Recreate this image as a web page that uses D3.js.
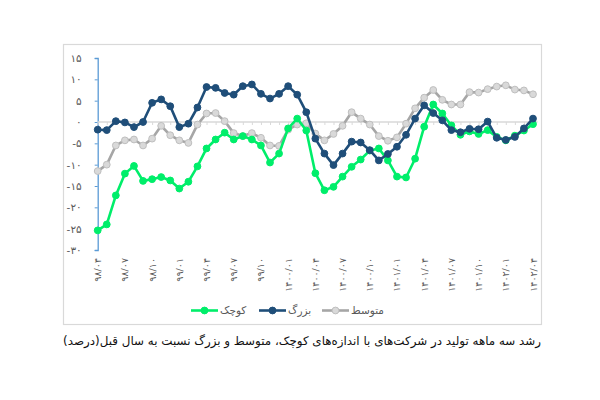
<!DOCTYPE html>
<html><head><meta charset="utf-8">
<script src="https://cdn.jsdelivr.net/npm/d3@7"></script>
<style>
html,body{margin:0;padding:0;background:#fff;}
svg{display:block;}
</style></head>
<body>
<svg id="chart" width="600" height="400"></svg>
<script>
const categories = [
 "98/04","98/05","98/06","98/07","98/08","98/09","98/10","98/11","98/12",
 "99/01","99/02","99/03","99/04","99/05","99/06","99/07","99/08","99/09","99/10","99/11","99/12",
 "1400/01","1400/02","1400/03","1400/04","1400/05","1400/06","1400/07","1400/08","1400/09","1400/10","1400/11","1400/12",
 "1401/01","1401/02","1401/03","1401/04","1401/05","1401/06","1401/07","1401/08","1401/09","1401/10","1401/11","1401/12",
 "1402/01","1402/02","1402/03","1402/04"];
const tickLabels = ["98/04","98/07","98/10","99/01","99/04","99/07","99/10","1400/01","1400/04","1400/07","1400/10","1401/01","1401/04","1401/07","1401/10","1402/01","1402/04"];
const yTicks = [15,10,5,0,-5,-10,-15,-20,-25,-30];

const seriesNames = ["متوسط","بزرگ","کوچک"];
const medium = [-11.5,-10.0,-5.5,-4.3,-4.1,-5.5,-3.9,-0.9,-3.1,-4.3,-4.9,-0.6,2.0,2.1,0.2,-2.6,-3.3,-2.6,-3.7,-5.5,-5.6,-1.8,-0.6,-0.3,-2.7,-4.3,-2.8,-0.9,2.3,0.8,-0.6,-3.3,-4.4,-3.6,-0.4,3.2,5.7,7.5,5.2,4.1,4.1,7.0,6.9,7.7,8.3,8.6,7.6,7.4,6.5];
const big = [-1.8,-1.9,0.2,-0.1,-1.2,0,4.5,5.3,3.7,-1.2,-0.4,3.4,8.2,8.0,6.8,6.4,8.4,8.8,6.6,5.5,6.6,8.4,6.4,2.3,-3.9,-7.4,-10.1,-7.4,-4.6,-4.8,-6.6,-9.0,-7.5,-5.8,-3.0,0.8,3.9,2.1,0.4,-1.9,-2.4,-1.6,-1.7,0.1,-3.7,-4.2,-3.5,-1.5,0.8];
const small = [-25.4,-24.0,-17.2,-12.1,-10.3,-13.8,-13.4,-12.9,-13.7,-15.6,-14.0,-10.4,-6.2,-4.1,-2.5,-4.1,-3.3,-4.1,-5.5,-9.5,-7.4,-1.5,0.8,-2.0,-12.0,-16.0,-15.2,-12.8,-10.5,-8.8,-6.7,-6.2,-9.0,-12.8,-13.0,-8.6,-1.1,4.1,2.0,-0.8,-3.0,-2.2,-2.8,-1.9,-3.5,-4.3,-3.2,-2.0,-0.5];
const title = "رشد سه ماهه تولید در شرکت‌های با اندازه‌های کوچک، متوسط و بزرگ نسبت به سال قبل(درصد)";

const fa = s => String(s).replace(/[0-9]/g, d => "۰۱۲۳۴۵۶۷۸۹"[+d]);

const series = [
  {name: seriesNames[0], values: medium, line: "#a6a6a6", fill: "#d9d9d9", stroke: "#bfbfbf"},
  {name: seriesNames[2], values: small, line: "#00ee6a", fill: "#00ee6a", stroke: "#00ee6a"},
  {name: seriesNames[1], values: big, line: "#1f4e79", fill: "#1f4e79", stroke: "#1f4e79"}
];

const svg = d3.select("#chart");
const font = "DejaVu Sans, sans-serif";

// frame
svg.append("rect").attr("x",63.5).attr("y",44.5).attr("width",478).attr("height",280)
  .attr("fill","none").attr("stroke","#d9d9d9").attr("stroke-width",1.2);

const x = d3.scalePoint().domain(categories).range([97.7, 533]);
const y = d3.scaleLinear().domain([-30, 15]).range([250, 58]);

// y axis
const yAxis = d3.axisLeft(y).tickValues(yTicks).tickSize(3).tickFormat(d => fa(d < 0 ? "-" + (-d) : d));
const gy = svg.append("g").attr("transform","translate(97.7,0)").call(yAxis);
gy.select(".domain").attr("stroke","#5b9bd5").attr("stroke-width",1.3);
gy.selectAll(".tick line").attr("stroke","#5b9bd5");
gy.selectAll(".tick text").attr("fill","#595959").attr("font-family",font).attr("font-size",10.5)
  .attr("x",-16).attr("direction","ltr");

// x axis at zero
const xAxis = d3.axisBottom(x).tickSize(3).tickFormat("");
const gx = svg.append("g").attr("transform",`translate(0,${y(0)})`).call(xAxis);
gx.select(".domain").attr("stroke","#d9d9d9").attr("stroke-width",1.3).attr("d",`M${97.7},0H${537.5}`);
gx.selectAll(".tick line").attr("stroke","#d9d9d9");

// x tick labels (rotated)
svg.append("g").selectAll("text").data(tickLabels).join("text")
  .attr("transform", d => `translate(${x(d)+3.5},258) rotate(-90)`)
  .attr("text-anchor","end").attr("direction","ltr")
  .attr("font-family",font).attr("font-size",9.5).attr("fill","#595959")
  .text(d => fa(d));

// lines
const line = d3.line().x((d,i) => x(categories[i])).y(d => y(d));
series.forEach(s => {
  const g = svg.append("g");
  g.append("path").datum(s.values).attr("d", line).attr("fill","none")
    .attr("stroke", s.line).attr("stroke-width", 2.6).attr("stroke-linejoin","round");
  g.selectAll("circle").data(s.values).join("circle")
    .attr("cx",(d,i) => x(categories[i])).attr("cy", d => y(d)).attr("r",3.4)
    .attr("fill", s.fill).attr("stroke", s.stroke).attr("stroke-width",1);
});

// legend
const legendItems = [
  {s: series[1], x0: 191},
  {s: series[2], x0: 259},
  {s: series[0], x0: 322}
];
const lg = svg.append("g");
legendItems.forEach(it => {
  lg.append("line").attr("x1", it.x0).attr("x2", it.x0 + 27).attr("y1",310.5).attr("y2",310.5)
    .attr("stroke", it.s.line).attr("stroke-width",2.6);
  lg.append("circle").attr("cx", it.x0 + 13.5).attr("cy",310.5).attr("r",3.4)
    .attr("fill", it.s.fill).attr("stroke", it.s.stroke);
  lg.append("text").attr("x", it.x0 + 29).attr("y",314).attr("text-anchor","start")
    .attr("font-family",font).attr("font-size",10.5).attr("fill","#595959").text(it.s.name);
});

// title
svg.append("text").attr("x",541).attr("y",345).attr("text-anchor","start").attr("direction","rtl")
  .attr("font-family",font).attr("font-size",11.9).attr("fill","#111").text(title);
</script>
</body></html>
